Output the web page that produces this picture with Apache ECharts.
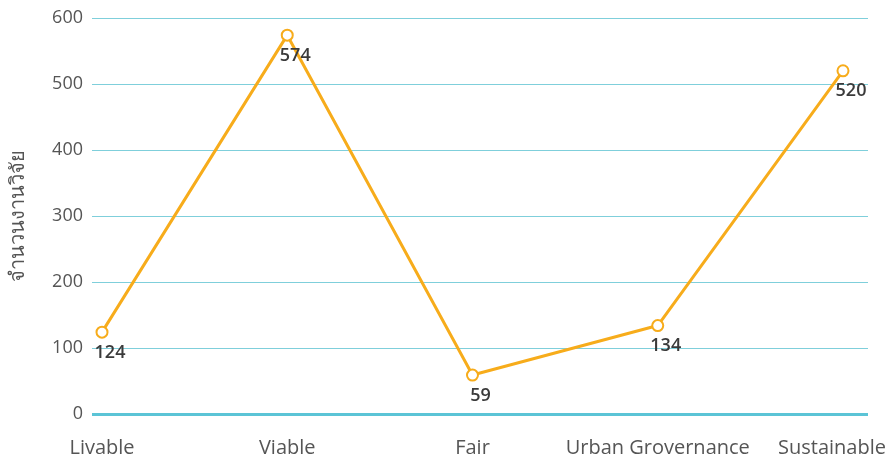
<!DOCTYPE html>
<html>
<head>
<meta charset="utf-8">
<script src="https://cdn.jsdelivr.net/npm/echarts@6/dist/echarts.min.js"></script>
<style>
  html, body { margin: 0; padding: 0; background: #fff; }
  #chart { width: 890px; height: 458px; }
</style>
</head>
<body>
<div id="chart"></div>
<script>
// categorias y valores del grafico
var categorias = ['Livable', 'Viable', 'Fair', 'Urban Grovernance', 'Sustainable'];
var valores = [124, 574, 59, 134, 520];
var nombreEjeY = 'จำนวนงานวิจัย';

var myChart = echarts.init(document.getElementById('chart'));

// puntos en eje de valor para que las lineas de la grilla se extiendan un poco
var puntos = valores.map(function (v, i) { return [i, v]; });

var option = {
    animation: false,
    grid: { left: 91, right: 22, top: 18, bottom: 44 },
    xAxis: {
        type: 'value',
        min: -0.054,
        max: 4.135,
        splitLine: { show: false },
        axisLine: { show: false },
        axisTick: { show: false },
        axisLabel: {
            color: '#555',
            fontSize: 20,
            fontFamily: 'Open Sans',
            margin: 24,
            showMinLabel: true,
            showMaxLabel: true,
            formatter: function (v) {
                var r = Math.round(v);
                if (Math.abs(v - r) > 1e-6 || r < 0 || r >= categorias.length) return '';
                if (r === categorias.length - 1) return '{s|' + categorias[r] + '}';
                return categorias[r];
            },
            rich: {
                s: { color: '#555', fontSize: 20, fontFamily: 'Open Sans', padding: [0, 22, 0, 0] }
            }
        }
    },
    yAxis: {
        type: 'value',
        min: 0,
        max: 600,
        interval: 100,
        name: nombreEjeY,
        nameLocation: 'middle',
        nameGap: 64,
        nameTextStyle: { color: '#555', fontSize: 20, fontFamily: 'Noto Sans' },
        axisLine: { show: false },
        axisTick: { show: false },
        axisLabel: { color: '#555', fontSize: 18, fontFamily: 'Open Sans', margin: 9 },
        splitLine: { show: true, lineStyle: { color: '#7fcfdb', width: 1 } }
    },
    series: [
        {
            type: 'line',
            data: puntos,
            symbol: 'emptyCircle',
            symbolSize: 11,
            lineStyle: { color: '#f7ac1b', width: 3 },
            itemStyle: { color: '#f7ac1b', borderWidth: 3 },
            label: {
                show: true,
                position: 'bottom',
                distance: 5,
                offset: [8, 0],
                color: '#3a3a3a',
                fontSize: 18,
                fontWeight: 600,
                fontFamily: 'Open Sans',
                formatter: function (p) { return p.value[1]; }
            },
            markLine: {
                silent: true,
                symbol: 'none',
                label: { show: false },
                lineStyle: { color: '#5bc4d6', width: 3, type: 'solid' },
                data: [{ yAxis: 0 }]
            }
        }
    ]
};

myChart.setOption(option);
</script>
</body>
</html>
